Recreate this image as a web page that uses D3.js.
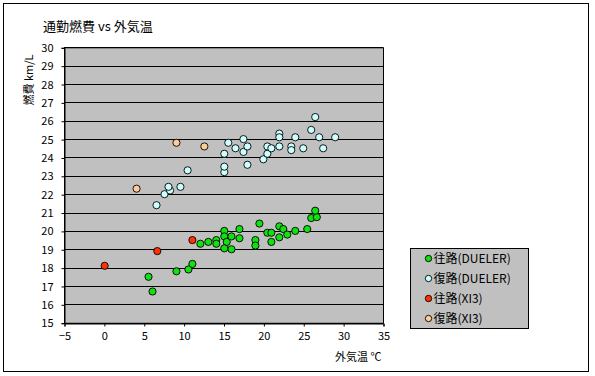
<!DOCTYPE html>
<html>
<head>
<meta charset="utf-8">
<script src="https://cdn.jsdelivr.net/npm/d3@7"></script>
<style>
  body { margin: 0; background: #fff; }
  text { font-family: "Noto Sans CJK JP", "DejaVu Sans", sans-serif; fill: #000; }
</style>
</head>
<body>
<div id="chart"></div>
<script>
const $ = (element) => d3.select(element);

// data: [気温 ℃, 燃費 km/L]
const outboundDueler = [
  [5.6, 17.5], [6.1, 16.7], [9.1, 17.8], [10.6, 17.9], [11.1, 18.2],
  [12.1, 19.3], [13.1, 19.4], [14.1, 19.5], [14.1, 19.3], [15.1, 20.0],
  [15.1, 19.7], [15.4, 19.4], [15.1, 19.05], [16.0, 19.7], [16.0, 19.0],
  [17.0, 20.1], [17.0, 19.6], [19.0, 19.5], [19.0, 19.2], [19.5, 20.4],
  [20.5, 19.9], [21.0, 19.9], [21.0, 19.4], [22.0, 20.25], [22.5, 20.1],
  [22.0, 19.65], [23.0, 19.8], [24.0, 20.0], [25.5, 20.1], [26.0, 20.7],
  [26.7, 20.75], [26.5, 21.1]
];
const returnDueler = [
  [6.6, 21.4], [7.6, 22.0], [8.3, 22.2], [8.1, 22.4], [9.6, 22.4],
  [10.5, 23.3], [15.1, 23.2], [15.1, 23.5], [15.1, 24.2], [15.6, 24.8],
  [16.5, 24.5], [17.5, 25.0], [17.5, 24.3], [18.0, 24.6], [18.0, 23.6],
  [20.0, 23.9], [20.5, 24.2], [20.5, 24.6], [21.0, 24.5], [22.0, 25.3],
  [22.0, 25.1], [22.0, 24.6], [23.5, 24.6], [23.5, 24.4], [24.0, 25.1],
  [25.0, 24.5], [26.0, 25.5], [26.5, 26.2], [27.0, 25.1], [27.5, 24.5],
  [29.0, 25.1]
];
const outboundXI3 = [[0.1, 18.1], [6.7, 18.9], [11.1, 19.5]];
const returnXI3 = [[4.1, 22.3], [9.1, 24.8], [12.6, 24.6]];

const seriesNames = ["往路(DUELER)", "復路(DUELER)", "往路(XI3)", "復路(XI3)"];
const seriesColors = ["#11e011", "#ccffff", "#ff3300", "#ffcc99"];
const seriesData = [outboundDueler, returnDueler, outboundXI3, returnXI3];

const xTicks = [-5, 0, 5, 10, 15, 20, 25, 30, 35];
const yTicks = d3.range(15, 31);

const width = 595;
const height = 376;
const plot = { left: 64, right: 383, top: 47.3, bottom: 322.7 };

const svg = $("#chart")
  .append("svg")
  .attr("width", width)
  .attr("height", height);

// outer frame
svg.append("rect")
  .attr("x", 3.5).attr("y", 3.5)
  .attr("width", 585).attr("height", 368)
  .attr("fill", "#fff")
  .attr("stroke", "#000")
  .attr("stroke-width", 1);

const x = d3.scaleLinear().domain([-5, 35]).range([plot.left, plot.right]);
const y = d3.scaleLinear().domain([15, 30]).range([plot.bottom, plot.top]);

svg.append("rect")
  .attr("x", plot.left).attr("y", plot.top)
  .attr("width", plot.right - plot.left)
  .attr("height", plot.bottom - plot.top)
  .attr("fill", "#c0c0c0");

// gridlines
svg.append("g")
  .selectAll("line")
  .data(yTicks)
  .join("line")
  .attr("x1", plot.left).attr("x2", plot.right)
  .attr("y1", (d) => Math.round(y(d)) + 0.5)
  .attr("y2", (d) => Math.round(y(d)) + 0.5)
  .attr("stroke", "#000");

svg.append("rect")
  .attr("x", plot.left + 0.5).attr("y", plot.top + 0.5)
  .attr("width", plot.right - plot.left)
  .attr("height", plot.bottom - plot.top)
  .attr("fill", "none")
  .attr("stroke", "#000");

const xAxis = svg.append("g")
  .attr("transform", `translate(0.5,${Math.round(plot.bottom) + 0.5})`)
  .call(d3.axisBottom(x).tickValues(xTicks).tickSize(3).tickPadding(6));
const yAxis = svg.append("g")
  .attr("transform", `translate(${plot.left + 0.5},0.5)`)
  .call(d3.axisLeft(y).tickValues(yTicks).tickSize(3).tickPadding(8));

[xAxis, yAxis].forEach((axis) => {
  axis.select(".domain").attr("stroke", "#000");
  axis.selectAll(".tick line").attr("stroke", "#000");
  axis.selectAll(".tick text")
    .attr("font-size", 11)
    .style("font-family", "\"Noto Sans CJK JP\", sans-serif");
});

// points
seriesData.forEach((points, i) => {
  svg.append("g")
    .selectAll("circle")
    .data(points)
    .join("circle")
    .attr("cx", (d) => x(d[0]))
    .attr("cy", (d) => y(d[1]))
    .attr("r", 3.6)
    .attr("fill", seriesColors[i])
    .attr("stroke", "#000")
    .attr("stroke-width", 0.9);
});

// titles
svg.append("text")
  .attr("x", 43).attr("y", 31)
  .attr("font-size", 13)
  .text("通勤燃費 vs 外気温");

svg.append("text")
  .attr("transform", "translate(33,80) rotate(-90)")
  .attr("text-anchor", "middle")
  .attr("font-size", 11)
  .text("燃費 km/L");

svg.append("text")
  .attr("x", 335).attr("y", 361)
  .attr("font-size", 11)
  .text("外気温 ℃");

// legend
const legend = svg.append("g").attr("transform", "translate(410.5,248.5)");
legend.append("rect")
  .attr("width", 118).attr("height", 80)
  .attr("fill", "#c0c0c0")
  .attr("stroke", "#000");

const item = legend.selectAll("g")
  .data(seriesNames)
  .join("g")
  .attr("transform", (_, i) => `translate(0,${10 + i * 20})`);
item.append("circle")
  .attr("cx", 18).attr("cy", 0).attr("r", 3.2)
  .attr("fill", (_, i) => seriesColors[i])
  .attr("stroke", "#000")
  .attr("stroke-width", 0.9);
item.append("text")
  .attr("x", 23).attr("y", 4.5)
  .attr("font-size", 12)
  .text((d) => d);
</script>
</body>
</html>
